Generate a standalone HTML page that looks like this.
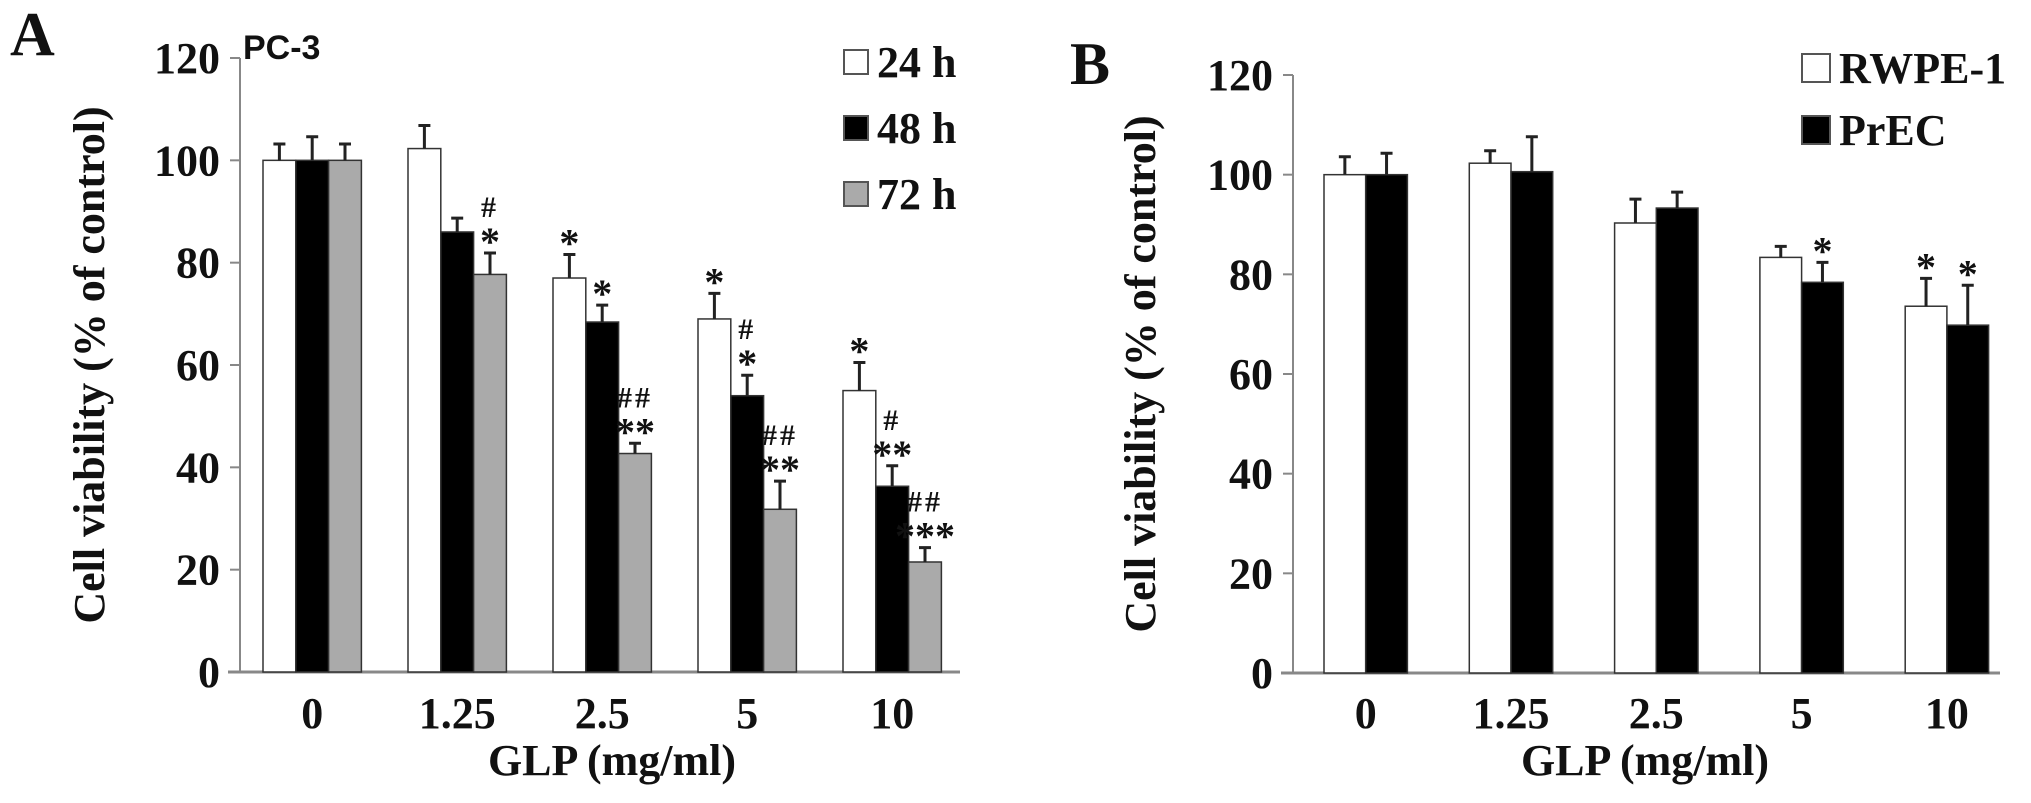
<!DOCTYPE html>
<html><head><meta charset="utf-8"><style>
html,body{margin:0;padding:0;background:#fff;}
svg{display:block;}
text{font-family:"Liberation Serif",serif;font-weight:bold;fill:#111;}
</style></head><body>
<svg id="fig" width="2031" height="803" viewBox="0 0 2031 803">
<text x="10" y="55" font-size="62">A</text>
<text x="243" y="59" font-size="34" style="font-family:'Liberation Sans',sans-serif">PC-3</text>
<text x="1070" y="84" font-size="60">B</text>
<g id="gA"></g>
<g id="gB"></g>
</svg>
<script>
const catsA = ["0","1.25","2.5","5","10"];
const v24 = [100,102.3,77,69,55];
const v48 = [100,86,68.4,54,36.3];
const v72 = [100,77.7,42.7,31.8,21.5];
const e24 = [3.2,4.5,4.6,5,5.5];
const e48 = [4.6,2.7,3.3,4,4];
const e72 = [3.2,4.2,2,5.5,2.8];
const ann24 = [[],[],["*"],["*"],["*"]];
const ann48 = [[],[],["*"],["#","*"],["#","**"]];
const ann72 = [[],["#","*"],["##","**"],["##","**"],["##","***"]];
const catsB = ["0","1.25","2.5","5","10"];
const vRW = [100,102.3,90.3,83.4,73.6];
const vPr = [100,100.6,93.3,78.4,69.8];
const eRW = [3.6,2.5,4.8,2.2,5.6];
const ePr = [4.3,7,3.2,4,8];
const annRW = [[],[],[],[],["*"]];
const annPr = [[],[],[],["*"],["*"]];
const ticks = [0,20,40,60,80,100,120];

const NS="http://www.w3.org/2000/svg";
function mk(p,tag,attrs){const e=document.createElementNS(NS,tag);for(const k in attrs)e.setAttribute(k,attrs[k]);p.appendChild(e);return e;}

function panel(g,cfg){
  const y=v=>cfg.y0-(v/120)*(cfg.y0-cfg.y120);
  const ax=mk(g,'line',{x1:cfg.ax,y1:y(120),x2:cfg.ax,y2:y(0),stroke:'#888','stroke-width':2});
  
  
  const xl=mk(g,'line',{x1:cfg.ax-12,y1:y(0),x2:cfg.xend,y2:y(0),stroke:'#888','stroke-width':3});
  
  
  ticks.forEach(t=>{
    const tl=mk(g,'line',{x1:cfg.ax-10,y1:y(t),x2:cfg.ax,y2:y(t),stroke:'#888','stroke-width':2});
    
    
    const tx=mk(g,'text',{x:cfg.ax-20,y:y(t)+15,'font-size':44,'text-anchor':'end'});
    tx.textContent=t;
    
    
  });
  cfg.cats.forEach((c,i)=>{
    const gx=cfg.g0+cfg.gs*i;
    const n=cfg.series.length;
    const tx=mk(g,'text',{x:gx+cfg.bw*n/2,y:728,'font-size':44,'text-anchor':'middle'});
    tx.textContent=c;
    
    
    cfg.series.forEach((s,j)=>{
      const bx=gx+cfg.bw*j, v=s.vals[i], top=y(v), et=y(v+s.err[i]), cx=bx+cfg.bw/2;
      const r=mk(g,'rect',{x:bx,y:top,width:cfg.bw,height:y(0)-top,fill:s.fill,stroke:'#333','stroke-width':1.5});
      
      
      const el=mk(g,'path',{d:`M${cx},${top}V${et}M${cx-6},${et}H${cx+6}`,stroke:'#222','stroke-width':3,fill:'none'});
      
      
      const a=s.ann[i];
      for(let k=a.length-1,line=0;k>=0;k--,line++){
        const isHash=a[k].indexOf('#')>=0;
        const t=mk(g,'text',{x:cx,y:isHash?et-36:et+2,'font-size':isHash?30:40,'text-anchor':'middle','fill':isHash?'#666':'#222','letter-spacing':isHash?3:0});
        t.textContent=a[k];
        
        
      }
    });
  });
  const yt=mk(g,'text',{x:0,y:0,'font-size':44,'text-anchor':'middle',transform:`translate(${cfg.ytx},${(y(0)+y(120))/2}) rotate(-90)`});
  yt.textContent='Cell viability (% of control)';
  
  
  const xt=mk(g,'text',{x:cfg.xtx,y:775,'font-size':44,'text-anchor':'middle'});
  xt.textContent='GLP (mg/ml)';
  
  
  cfg.series.forEach((s,j)=>{
    const ly=cfg.legY+cfg.legGap*j;
    const r=mk(g,'rect',{x:cfg.legX,y:ly-12,width:cfg.legBox,height:cfg.legBox,fill:s.fill,stroke:'#555','stroke-width':2});
    
    
    const t=mk(g,'text',{x:cfg.legX+cfg.legBox+9,y:ly+15+cfg.legBox/2-12,'font-size':44});
    t.textContent=s.name;
    
    
  });
}
panel(document.getElementById('gA'),{ax:240,y0:672,y120:58,xend:960,g0:263,gs:145,bw:32.8,cats:catsA,ytx:104,xtx:612,
  legX:844,legY:62,legGap:66,legBox:24,
  series:[{key:'24h',name:'24 h',fill:'#fff',vals:v24,err:e24,ann:ann24},
          {key:'48h',name:'48 h',fill:'#000',vals:v48,err:e48,ann:ann48},
          {key:'72h',name:'72 h',fill:'#aaa',vals:v72,err:e72,ann:ann72}]});
panel(document.getElementById('gB'),{ax:1293,y0:673,y120:75,xend:2000,g0:1324,gs:145.3,bw:41.7,cats:catsB,ytx:1155,xtx:1645,
  legX:1802,legY:66,legGap:62,legBox:28,
  series:[{key:'rwpe1',name:'RWPE-1',fill:'#fff',vals:vRW,err:eRW,ann:annRW},
          {key:'prec',name:'PrEC',fill:'#000',vals:vPr,err:ePr,ann:annPr}]});
</script>
</body></html>
